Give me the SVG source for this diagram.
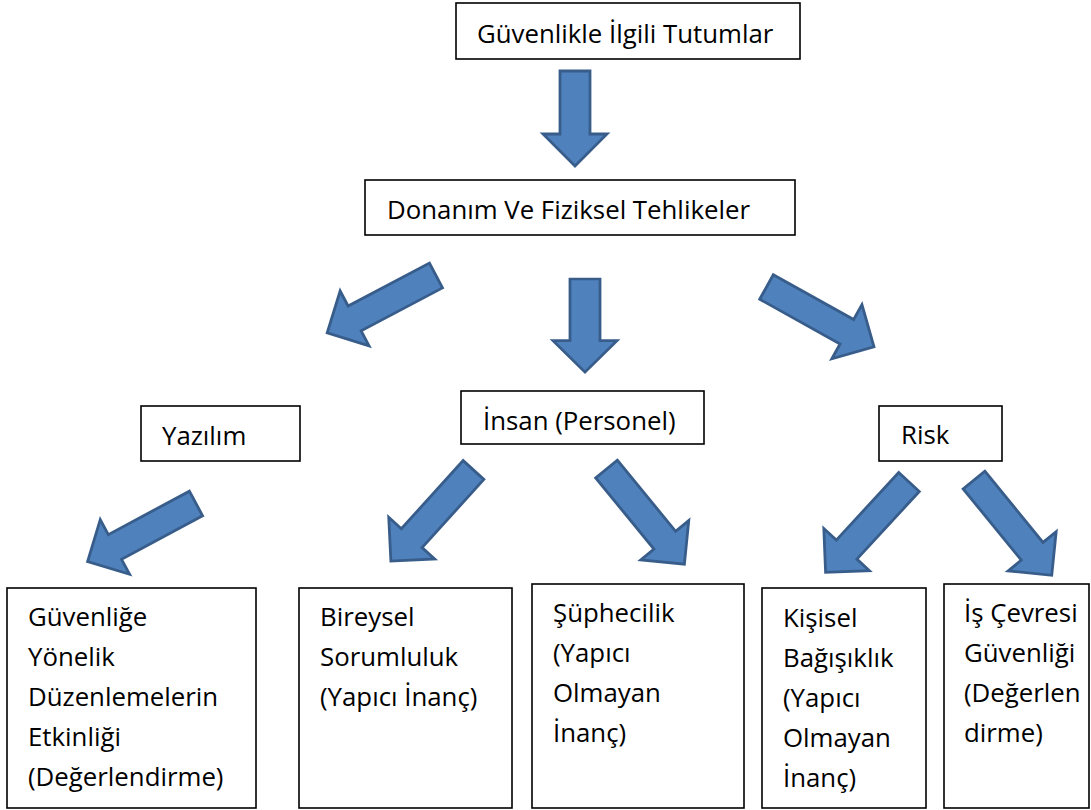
<svg xmlns="http://www.w3.org/2000/svg" xmlns:xlink="http://www.w3.org/1999/xlink" width="1091" height="810" viewBox="0 0 1091 810">
<style>
  .box { fill: #ffffff; stroke: #000000; stroke-width: 1.6; }
  .t { font-family: "Open Sans", "Liberation Sans", sans-serif; font-size: 25.8px; fill: #000000; }
  .arr { fill: #4F81BD; stroke: #385D8A; stroke-width: 2.8; stroke-linejoin: miter; }
</style>
<defs>
  <polygon id="arrV" points="0,-15 63,-15 63,-32 95,0 63,32 63,15 0,15"/>
  <polygon id="arrD" points="0,-14 92,-14 92,-31 123,0 92,31 92,14 0,14"/>
</defs>
<rect width="1091" height="810" fill="#ffffff"/>

<g id="connectors">
  <use xlink:href="#arrV" href="#arrV" class="arr" transform="translate(575,71) rotate(90)"/>
  <use xlink:href="#arrV" href="#arrV" class="arr" transform="translate(585,279) rotate(90) scale(0.98,1)"/>
  <use xlink:href="#arrD" href="#arrD" class="arr" transform="translate(436,275.5) rotate(152.2)"/>
  <use xlink:href="#arrD" href="#arrD" class="arr" transform="translate(766.5,287) rotate(29.1)"/>
  <use xlink:href="#arrD" href="#arrD" class="arr" transform="translate(196,503.5) rotate(151.8)"/>
  <use xlink:href="#arrD" href="#arrD" class="arr" transform="translate(473.5,470) rotate(132.2)"/>
  <use xlink:href="#arrD" href="#arrD" class="arr" transform="translate(606.5,469) rotate(50.7)"/>
  <use xlink:href="#arrD" href="#arrD" class="arr" transform="translate(909,482) rotate(132.7)"/>
  <use xlink:href="#arrD" href="#arrD" class="arr" transform="translate(974,480) rotate(50.8)"/>
</g>

<g id="n-tutumlar">
  <rect class="box" x="456" y="3" width="344" height="56"/>
  <text class="t" x="477" y="43">Güvenlikle İlgili Tutumlar</text>
</g>
<g id="n-donanim">
  <rect class="box" x="365" y="180" width="430" height="55"/>
  <text class="t" x="387" y="219">Donanım Ve Fiziksel Tehlikeler</text>
</g>
<g id="n-yazilim">
  <rect class="box" x="141" y="406" width="159" height="55"/>
  <text class="t" x="162" y="445">Yazılım</text>
</g>
<g id="n-insan">
  <rect class="box" x="461" y="391" width="243" height="53"/>
  <text class="t" x="483" y="430">İnsan (Personel)</text>
</g>
<g id="n-risk">
  <rect class="box" x="879" y="406" width="123" height="55"/>
  <text class="t" x="901" y="444">Risk</text>
</g>
<g id="n-guvenlige">
  <rect class="box" x="7" y="588" width="249" height="220"/>
  <text class="t" x="28" y="626">Güvenliğe</text>
  <text class="t" x="28" y="666">Yönelik</text>
  <text class="t" x="28" y="706">Düzenlemelerin</text>
  <text class="t" x="28" y="746">Etkinliği</text>
  <text class="t" x="28" y="786">(Değerlendirme)</text>
</g>
<g id="n-bireysel">
  <rect class="box" x="299" y="588" width="213" height="220"/>
  <text class="t" x="320" y="626">Bireysel</text>
  <text class="t" x="320" y="666">Sorumluluk</text>
  <text class="t" x="320" y="706">(Yapıcı İnanç)</text>
</g>
<g id="n-suphecilik">
  <rect class="box" x="532" y="584" width="212" height="224"/>
  <text class="t" x="553" y="622">Şüphecilik</text>
  <text class="t" x="553" y="662">(Yapıcı</text>
  <text class="t" x="553" y="702">Olmayan</text>
  <text class="t" x="553" y="742">İnanç)</text>
</g>
<g id="n-kisisel">
  <rect class="box" x="762" y="588" width="164" height="220"/>
  <text class="t" x="783" y="627">Kişisel</text>
  <text class="t" x="783" y="667">Bağışıklık</text>
  <text class="t" x="783" y="707">(Yapıcı</text>
  <text class="t" x="783" y="747">Olmayan</text>
  <text class="t" x="783" y="787">İnanç)</text>
</g>
<g id="n-iscevresi">
  <rect class="box" x="944" y="584" width="145" height="224"/>
  <text class="t" x="964" y="622">İş Çevresi</text>
  <text class="t" x="964" y="662">Güvenliği</text>
  <text class="t" x="964" y="702">(Değerlen</text>
  <text class="t" x="964" y="742">dirme)</text>
</g>
</svg>
